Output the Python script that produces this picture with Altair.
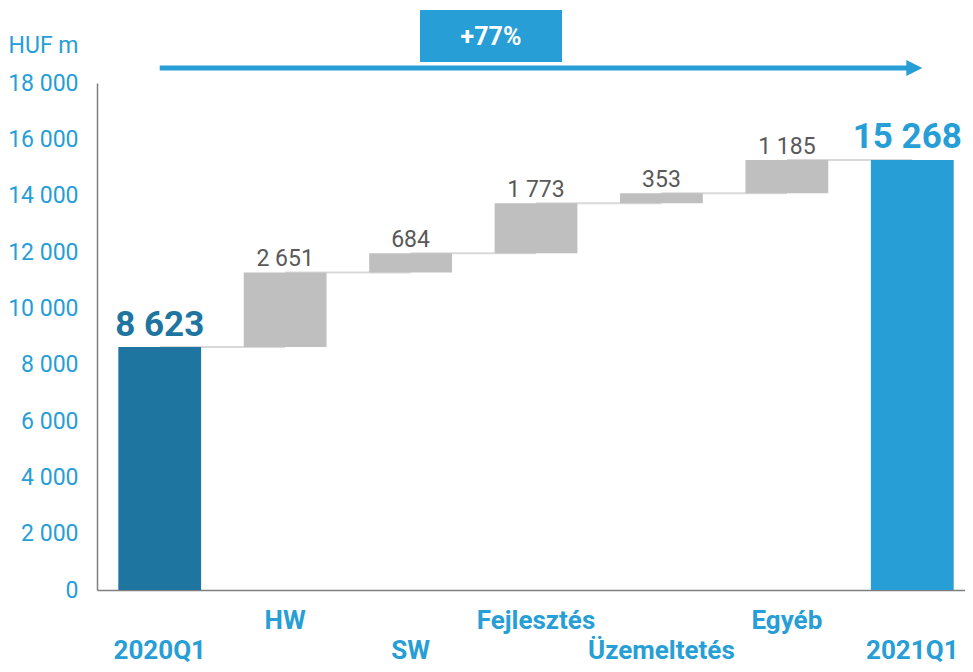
import altair as alt
import pandas as pd

categories = ["2020Q1", "HW", "SW", "Fejlesztés", "Üzemeltetés", "Egyéb", "2021Q1"]
start_value = 8623
deltas = [2651, 684, 1773, 353, 1185]
end_value = 15268
y_ticks = [0, 2000, 4000, 6000, 8000, 10000, 12000, 14000, 16000, 18000]
growth_label = "+77%"
unit_label = "HUF m"
lower_row = ["2020Q1", "SW", "Üzemeltetés", "2021Q1"]

BLUE = "#279ed6"
DARK = "#1e75a0"
GRAY = "#bfbfbf"
TXT_GRAY = "#595959"
FONT = "Roboto"


def fmt(v):
    return f"{v:,}".replace(",", " ")


rows = [dict(cat=categories[0], lo=0, hi=start_value, label=fmt(start_value), kind="start")]
level = start_value
for c, d in zip(categories[1:-1], deltas):
    rows.append(dict(cat=c, lo=level, hi=level + d, label=fmt(d), kind="delta"))
    level += d
rows.append(dict(cat=categories[-1], lo=0, hi=end_value, label=fmt(end_value), kind="end"))
df = pd.DataFrame(rows)

conn = pd.DataFrame(
    [dict(cat=df.cat[i], nxt=df.cat[i + 1], lvl=df.hi[i]) for i in range(len(df) - 1)]
)

lower_js = "[" + ",".join(f"'{c}'" for c in lower_row) + "]"

xscale = alt.Scale(domain=categories, paddingInner=0.34, paddingOuter=0.17, range=[0, 878])
yscale = alt.Scale(domain=[0, 18000], nice=False)

x_axis = alt.Axis(
    title=None,
    labelExpr=f"indexof({lower_js}, datum.value) >= 0 ? ['', datum.value] : datum.value",
    labelFont=FONT,
    labelFontSize=26,
    labelFontWeight="bold",
    labelColor=BLUE,
    labelLineHeight=30,
    labelPadding=17,
    labelOverlap=False,
    labelBound=False,
    labelLimit=400,
    labelAngle=0,
    ticks=False,
    tickSize=0,
    domainColor="#7f7f7f",
    domainWidth=1.5,
)

y_axis = alt.Axis(
    values=y_ticks,
    labelExpr="replace(format(datum.value, ','), ',', ' ')",
    grid=False,
    ticks=False,
    tickSize=0,
    labelPadding=19,
    labelFont=FONT,
    labelFontSize=23,
    labelColor=BLUE,
    domainColor="#7f7f7f",
    domainWidth=1.5,
    title=unit_label,
    titleAngle=0,
    titleAlign="right",
    titleBaseline="alphabetic",
    titleX=-19,
    titleY=-31,
    titleFont=FONT,
    titleFontSize=23,
    titleFontWeight="normal",
    titleColor=BLUE,
)

base = alt.Chart(df)
xenc = alt.X("cat:N", scale=xscale, sort=categories)
yenc = alt.Y("hi:Q", scale=yscale)

connectors = alt.Chart(conn).mark_rule(color="#d9d9d9", strokeWidth=2).encode(
    x=alt.X("cat:N", scale=xscale, axis=x_axis, sort=categories),
    x2="nxt:N",
    y=alt.Y("lvl:Q", scale=yscale, axis=y_axis),
)

bars = base.mark_bar().encode(
    x=xenc,
    y=alt.Y("lo:Q", scale=yscale),
    y2="hi:Q",
    color=alt.Color(
        "kind:N",
        scale=alt.Scale(domain=["start", "delta", "end"], range=[DARK, GRAY, BLUE]),
        legend=None,
    ),
)

delta_text = base.transform_filter(alt.datum.kind == "delta").mark_text(
    font=FONT, fontSize=23, color=TXT_GRAY, baseline="alphabetic", dy=-6
).encode(x=xenc, y=yenc, text="label:N")

start_text = base.transform_filter(alt.datum.kind == "start").mark_text(
    font=FONT, fontSize=35, fontWeight="bold", baseline="alphabetic", dy=-11, color=DARK
).encode(x=xenc, y=yenc, text="label:N")

end_text = base.transform_filter(alt.datum.kind == "end").mark_text(
    font=FONT, fontSize=35, fontWeight="bold", baseline="alphabetic", dy=-12, dx=-5, color=BLUE
).encode(x=xenc, y=yenc, text="label:N")

arrow_df = pd.DataFrame([dict(a=categories[0], b=categories[-1])])
arrow_line = alt.Chart(arrow_df).mark_rule(color=BLUE, strokeWidth=5).encode(
    x=alt.X("a:N", scale=xscale, sort=categories),
    x2="b:N",
    y=alt.value(-15),
)
arrow_head = alt.Chart(arrow_df).mark_point(
    shape="M -1 -1 L 1 0 L -1 1 Z", filled=True, opacity=1, color=BLUE, size=256, xOffset=2
).encode(x=alt.X("b:N", scale=xscale, sort=categories), y=alt.value(-15))

box_df = pd.DataFrame([dict(t=growth_label)])
box = alt.Chart(box_df).mark_rect(color=BLUE).encode(
    x=alt.value(323), x2=alt.value(465), y=alt.value(-73), y2=alt.value(-21)
)
box_text = alt.Chart(box_df).mark_text(
    font=FONT, fontSize=25, fontWeight="bold", color="white", baseline="middle"
).encode(x=alt.value(394), y=alt.value(-46), text="t:N")

chart = (
    alt.layer(connectors, bars, delta_text, start_text, end_text, arrow_line, arrow_head, box, box_text)
    .properties(
        width=866,
        height=507,
        autosize=alt.AutoSizeParams(type="none"),
        padding={"left": 89, "top": 75, "right": 2, "bottom": 74},
    )
    .configure_view(stroke=None)
)

chart.save("out.html", embed_options={"renderer": "svg", "actions": False})
